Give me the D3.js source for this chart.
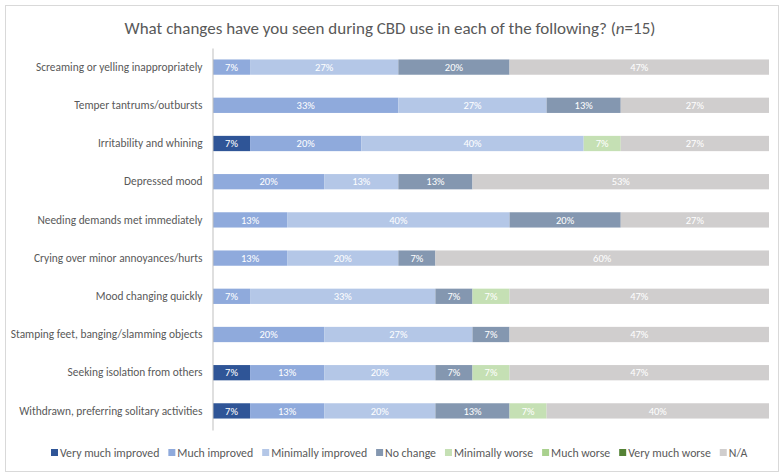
<!DOCTYPE html>
<html>
<head>
<meta charset="utf-8">
<script src="https://cdn.jsdelivr.net/npm/d3@7"></script>
<style>
  body { margin: 0; background: #fff; }
  svg { font-family: Carlito, Calibri, Lato, sans-serif; }
</style>
</head>
<body>
<div id="chart"></div>
<script>
// respondents answering each option, n = 15 (percent = count / 15)
const categories = [
  "Screaming or yelling inappropriately",
  "Temper tantrums/outbursts",
  "Irritability and whining",
  "Depressed mood",
  "Needing demands met immediately",
  "Crying over minor annoyances/hurts",
  "Mood changing quickly",
  "Stamping feet, banging/slamming objects",
  "Seeking isolation from others",
  "Withdrawn, preferring solitary activities"
];
const seriesNames = ["Very much improved", "Much improved", "Minimally improved", "No change",
  "Minimally worse", "Much worse", "Very much worse", "N/A"];
const veryMuchImproved = [0, 0, 1, 0, 0, 0, 0, 0, 1, 1];
const muchImproved     = [1, 5, 3, 3, 2, 2, 1, 3, 2, 2];
const minImproved      = [4, 4, 6, 2, 6, 3, 5, 4, 3, 3];
const noChange         = [3, 2, 0, 2, 3, 1, 1, 1, 1, 2];
const minWorse         = [0, 0, 1, 0, 0, 0, 1, 0, 1, 1];
const muchWorse        = [0, 0, 0, 0, 0, 0, 0, 0, 0, 0];
const veryMuchWorse    = [0, 0, 0, 0, 0, 0, 0, 0, 0, 0];
const notApplicable    = [7, 4, 4, 8, 4, 9, 7, 7, 7, 6];
const n = 15;
const colors = ["#2f5597", "#8faadc", "#b4c7e7", "#8497b0", "#c5e0b4", "#a9d18e", "#548235", "#d0cece"];

const W = 784, H = 475;
const margin = {top: 48, right: 15, bottom: 45, left: 213};

const seriesVals = [veryMuchImproved, muchImproved, minImproved, noChange, minWorse, muchWorse, veryMuchWorse, notApplicable];
const rows = categories.map((c, i) => {
  let r = {cat: c};
  seriesNames.forEach((s, j) => { r[s] = seriesVals[j][i] / n; });
  return r;
});

const layers = d3.stack().keys(seriesNames)(rows);

const svg = d3.select("#chart").append("svg")
    .attr("width", W).attr("height", H);

// outer frame
svg.append("rect")
    .attr("x", 5.5).attr("y", 5.5).attr("width", W - 11).attr("height", H - 9)
    .attr("fill", "#fff").attr("stroke", "#d9d9d9");

svg.append("text")
    .attr("x", W / 2 - 2).attr("y", 34)
    .attr("text-anchor", "middle")
    .attr("fill", "#595959")
    .style("font-size", "17px")
    .html('What changes have you seen during CBD use in each of the following? (<tspan font-style="italic">n</tspan>=15)');

const x = d3.scaleLinear().domain([0, 1]).range([margin.left, W - margin.right]);
const y = d3.scaleBand().domain(categories).range([margin.top, H - margin.bottom]).paddingInner(0.6).paddingOuter(0.3);

const g = svg.selectAll("g.layer").data(layers).enter().append("g")
    .attr("class", "layer")
    .attr("fill", (d, i) => colors[i]);

g.selectAll("rect").data(d => d).enter().append("rect")
    .attr("x", d => x(d[0]))
    .attr("y", d => y(d.data.cat))
    .attr("width", d => x(d[1]) - x(d[0]))
    .attr("height", y.bandwidth());

g.selectAll("text").data(d => d.filter(v => v[1] - v[0] > 0)).enter().append("text")
    .attr("x", d => (x(d[0]) + x(d[1])) / 2)
    .attr("y", d => y(d.data.cat) + y.bandwidth() / 2)
    .attr("dy", "0.35em")
    .attr("text-anchor", "middle")
    .attr("fill", "#fff")
    .style("font-size", "10.5px")
    .text(d => Math.round((d[1] - d[0]) * 100) + "%");

// category axis
const yAxis = svg.append("g")
    .attr("transform", "translate(" + (margin.left - 0.5) + ",0)")
    .call(d3.axisLeft(y).tickSize(0).tickPadding(10));
yAxis.select(".domain").attr("stroke", "#bfbfbf");
yAxis.selectAll("text").attr("fill", "#595959").style("font-size", "11.4px")
    .style("font-family", "Carlito, Calibri, Lato, sans-serif");

// legend
const legend = svg.append("g").attr("transform", "translate(0," + 453 + ")");
let lx = 51;
seriesNames.forEach((s, i) => {
  const item = legend.append("g").attr("transform", "translate(" + lx + ",0)");
  item.append("rect").attr("x", 0).attr("y", -4).attr("width", 7).attr("height", 7).attr("fill", colors[i]);
  const t = item.append("text").attr("x", 9).attr("y", 0).attr("dy", "0.35em")
      .attr("fill", "#595959").style("font-size", "11.8px").text(s);
  lx += 9 + t.node().getComputedTextLength() + 9;
});
</script>
</body>
</html>
